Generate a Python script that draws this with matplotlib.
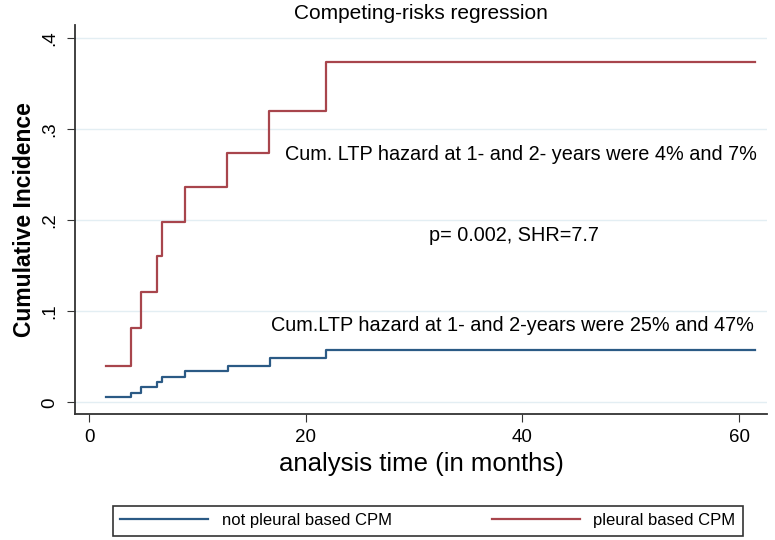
import matplotlib
matplotlib.use("Agg")
import matplotlib.pyplot as plt

plt.rcParams['font.family'] = ['Liberation Sans', 'DejaVu Sans']

# step times (months) and cumulative incidence after each step
t_not = [1.5, 3.9, 4.8, 6.3, 6.7, 8.8, 12.8, 16.7, 21.9, 61.5]
ci_not = [0.006, 0.010, 0.017, 0.022, 0.028, 0.034, 0.040, 0.049, 0.058, 0.058]

t_pl = [1.5, 3.9, 4.8, 6.3, 6.7, 8.8, 12.7, 16.6, 21.9, 61.5]
ci_pl = [0.040, 0.082, 0.121, 0.161, 0.198, 0.237, 0.274, 0.320, 0.374, 0.374]

labels = ["not pleural based CPM", "pleural based CPM"]
xticks = [0, 20, 40, 60]
yticks = [0, 0.1, 0.2, 0.3, 0.4]
yticklabels = ["0", ".1", ".2", ".3", ".4"]

fig = plt.figure(figsize=(7.75, 5.4), dpi=100)
ax = fig.add_axes([0.097, 0.233, 0.893, 0.721])

blue = "#2b5a85"
red = "#a8454c"

for y in yticks:
    ax.axhline(y, color="#e3eef3", lw=1, zorder=0)

l1, = ax.step(t_not, ci_not, where="post", color=blue, lw=1.6, label=labels[0])
l2, = ax.step(t_pl, ci_pl, where="post", color=red, lw=1.6, label=labels[1])

ax.set_xlim(-1.3, 62.6)
ax.set_ylim(-0.013, 0.415)
ax.set_xticks(xticks)
ax.set_yticks(yticks)
ax.set_yticklabels(yticklabels, rotation=90, va="center")
ax.tick_params(axis="both", labelsize=13.5, length=6, color="#333333")
ax.tick_params(axis="y", pad=6)
ax.tick_params(axis="x", pad=5)

for s in ["top", "right"]:
    ax.spines[s].set_visible(False)
for s in ["left", "bottom"]:
    ax.spines[s].set_color("#333333")
    ax.spines[s].set_linewidth(1.3)

ax.set_title("Competing-risks regression", fontsize=15, pad=4)
ax.set_ylabel("Cumulative Incidence", fontsize=16.5, fontweight="bold", labelpad=4)
ax.set_xlabel("analysis time (in months)", fontsize=18.5, labelpad=4)

ax.text(18.1, 0.272, "Cum. LTP hazard at 1- and 2- years were 4% and 7%",
        fontsize=14.3, va="center", ha="left")
ax.text(31.4, 0.183, "p= 0.002, SHR=7.7", fontsize=14.3, va="center", ha="left")
ax.text(16.8, 0.085, "Cum.LTP hazard at 1- and 2-years were 25% and 47%",
        fontsize=14.3, va="center", ha="left")

leg = fig.legend(handles=[l1, l2], labels=labels, loc="center",
                 bbox_to_anchor=(0.552, 0.036), ncol=2, fontsize=12,
                 frameon=True, fancybox=False, edgecolor="black",
                 handlelength=5.3, columnspacing=6, borderpad=0.45)
leg.get_frame().set_linewidth(1.2)

fig.savefig("out.png", dpi=100)
